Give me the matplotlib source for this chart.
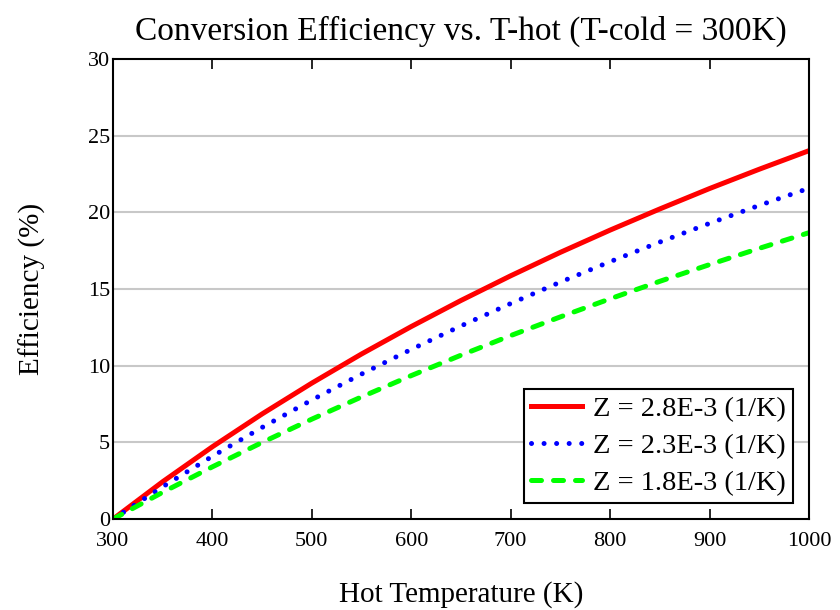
import numpy as np
import matplotlib.pyplot as plt

plt.rcParams['font.family'] = ['Liberation Serif', 'DejaVu Serif']

t_hot = [300, 350, 400, 450, 500, 550, 600, 650, 700, 750, 800, 850, 900, 950, 1000]
eff_28 = [0, 2.44, 4.72, 6.86, 8.87, 10.77, 12.56, 14.26, 15.87, 17.40, 18.85, 20.23, 21.56, 22.82, 24.03]
eff_23 = [0, 2.11, 4.10, 5.98, 7.77, 9.46, 11.07, 12.60, 14.06, 15.46, 16.79, 18.07, 19.29, 20.46, 21.58]
eff_18 = [0, 1.75, 3.41, 5.00, 6.52, 7.97, 9.36, 10.69, 11.97, 13.19, 14.37, 15.51, 16.60, 17.66, 18.68]
labels = ['Z = 2.8E-3 (1/K)', 'Z = 2.3E-3 (1/K)', 'Z = 1.8E-3 (1/K)']

fig = plt.figure(figsize=(8.4, 6.1), dpi=100)
ax = fig.add_axes([0.1345, 0.149, 0.8285, 0.754])

for y in [5, 10, 15, 20, 25]:
    ax.axhline(y, color='#c8c8c8', lw=1.5, zorder=0)

ax.plot(t_hot, eff_28, color='#ff0000', lw=3.6, label=labels[0])
ax.plot(t_hot, eff_23, color='#0000ff', lw=3.6, ls=(0, (0.01, 2.5)),
        dash_capstyle='round', label=labels[1])
ax.plot(t_hot, eff_18, color='#00ff00', lw=3.6, ls=(0, (2.0, 2.4)),
        dash_capstyle='round', label=labels[2])

ax.set_xlim(300, 1000)
ax.set_ylim(0, 30)
ax.set_xticks(range(300, 1001, 100))
ax.set_yticks(range(0, 31, 5))
ax.tick_params(axis='x', direction='in', length=7.5, width=1.2, top=True, labelsize=16, pad=9)
ax.tick_params(axis='y', length=0, labelsize=16, pad=2)
for s in ax.spines.values():
    s.set_linewidth(1.5)

ax.set_title('Conversion Efficiency vs. T-hot (T-cold = 300K)', fontsize=24, pad=14)
ax.set_xlabel('Hot Temperature (K)', fontsize=21, labelpad=22)
ax.set_ylabel('Efficiency (%)', fontsize=21, labelpad=30)

leg = ax.legend(loc='lower right', fontsize=20.5, fancybox=False, framealpha=1,
                edgecolor='black', handlelength=1.8, handletextpad=0.4,
                borderpad=0.25, labelspacing=0.4, borderaxespad=0.55)
leg.get_frame().set_linewidth(1.5)

fig.savefig('out.png', dpi=100)
